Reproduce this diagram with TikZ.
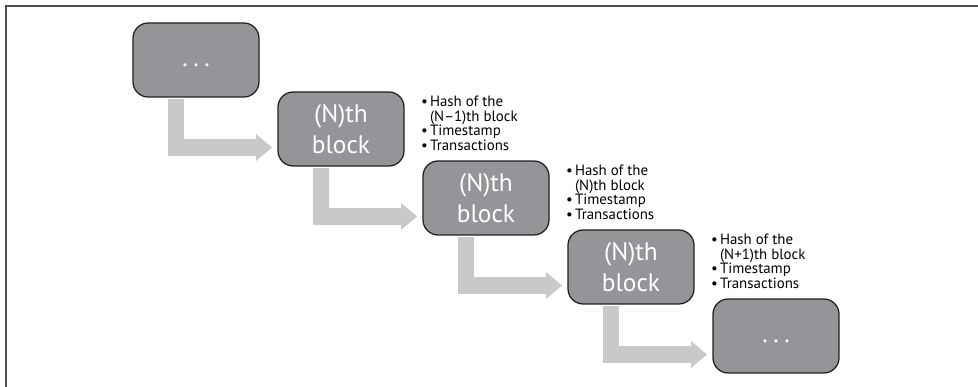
\documentclass[tikz,border=0pt]{standalone}
\usepackage{fontspec}
\setmainfont{PT Sans}
\usetikzlibrary{arrows.meta}
\definecolor{blockgray}{HTML}{939598}
\definecolor{arrowgray}{HTML}{C8C9CB}
\definecolor{edgegray}{HTML}{231F20}
\definecolor{framegray}{HTML}{4D4D4F}
\newcommand{\infofont}{\fontsize{10.6}{10.3}\selectfont\lineskiplimit=-5pt\relax}
\newcommand{\moredots}{.\kern0.22em.\kern0.22em.}
\newcommand{\blt}{•\kern0.15em}

\begin{document}
\begin{tikzpicture}[block node/.style={rectangle,rounded corners=0.38cm,draw=edgegray,line width=0.9pt,fill=blockgray,minimum width=3.15cm,minimum height=1.85cm,inner sep=0pt,outer sep=0pt,text=white,align=center,font=\fontsize{18}{22}\selectfont},info node/.style={anchor=north west,align=left,inner sep=0pt,font=\infofont}]
\tikzstyle{link edge} = [draw=arrowgray,line width=0.42cm,-{Triangle[width=0.675cm,length=0.4cm,line width=0pt]}]

\useasboundingbox (0,0) rectangle (24.45,9.675);
\draw[framegray, line width=1.4pt] (0.15,0) -- (0.15,9.525) -- (24.45,9.525);

\node[block node] (b1) at (4.9, 8.175) {\moredots\strut};
\node[block node] (b2) at (8.525, 6.45) {(N)th\\block};
\node[block node] (b3) at (12.15, 4.725) {(N)th\\block};
\node[block node] (b4) at (15.775, 3.0) {(N)th\\block};
\node[block node] (b5) at (19.4, 1.275) {\moredots\strut};

\draw[link edge] ([xshift=-0.5cm,yshift=-0.05cm]b1.south) |- ([xshift=-0.15cm,yshift=-0.4625cm]b2.west);
\draw[link edge] ([xshift=-0.5cm,yshift=-0.05cm]b2.south) |- ([xshift=-0.15cm,yshift=-0.4625cm]b3.west);
\draw[link edge] ([xshift=-0.5cm,yshift=-0.05cm]b3.south) |- ([xshift=-0.15cm,yshift=-0.4625cm]b4.west);
\draw[link edge] ([xshift=-0.5cm,yshift=-0.05cm]b4.south) |- ([xshift=-0.15cm,yshift=-0.4625cm]b5.west);

% Block contents
\node[info node] (i2) at ([xshift=0.42cm,yshift=-0.1cm]b2.north east) {\blt Hash of the\\\hphantom{\blt}(N–1)th block\\\blt Timestamp\\\blt Transactions};
\node[info node] (i3) at ([xshift=0.42cm,yshift=-0.1cm]b3.north east) {\blt Hash of the\\\hphantom{\blt}(N)th block\\\blt Timestamp\\\blt Transactions};
\node[info node] (i4) at ([xshift=0.42cm,yshift=-0.1cm]b4.north east) {\blt Hash of the\\\hphantom{\blt}(N+1)th block\\\blt Timestamp\\\blt Transactions};

\end{tikzpicture}
\end{document}
